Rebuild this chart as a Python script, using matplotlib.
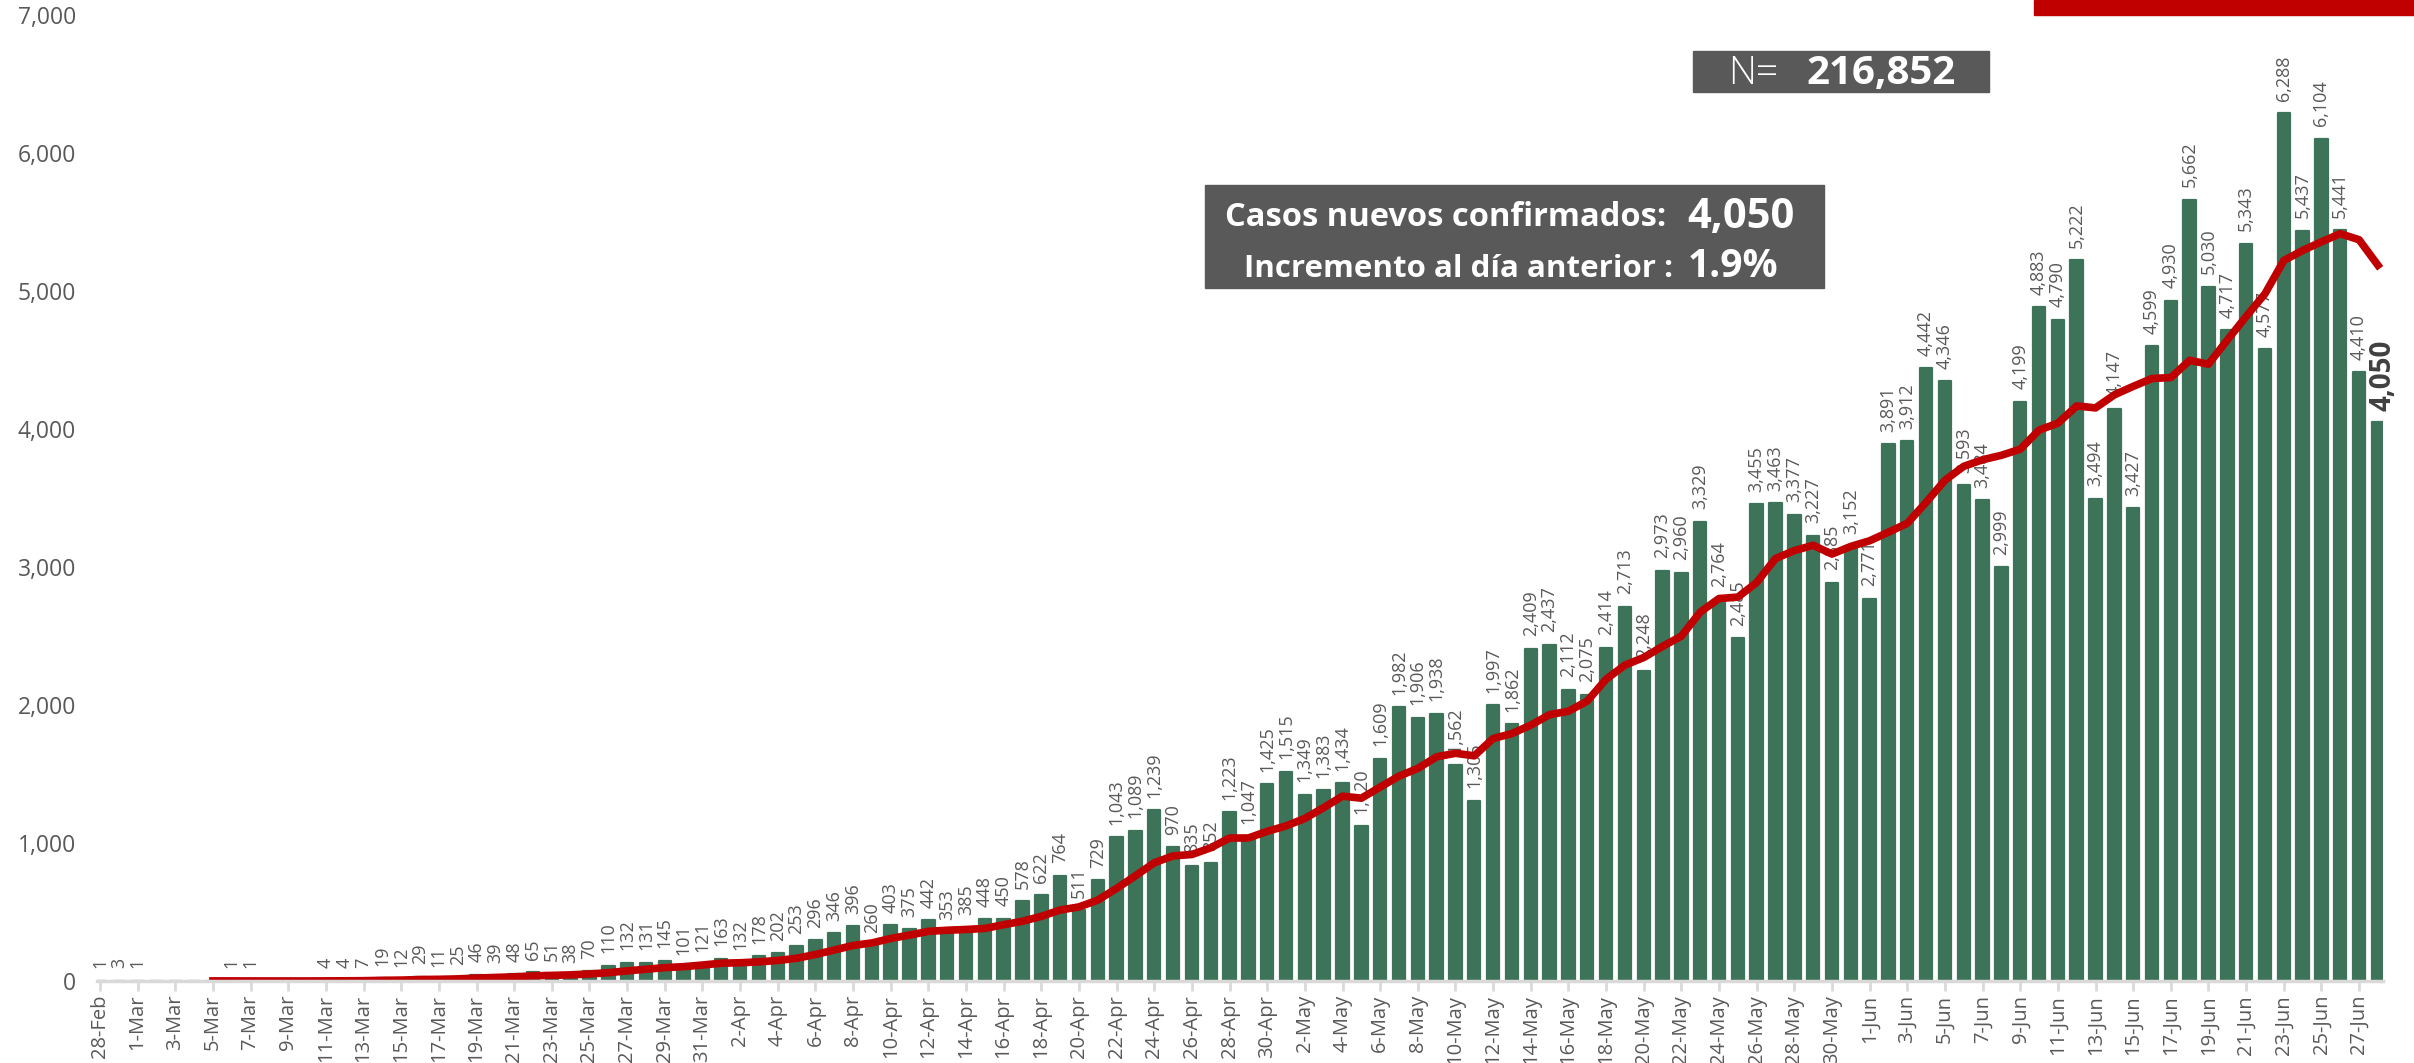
import matplotlib
matplotlib.use("Agg")
import matplotlib.pyplot as plt
from matplotlib.patches import Rectangle
import pandas as pd

plt.rcParams['font.family'] = ['Open Sans', 'DejaVu Sans']

# casos nuevos confirmados por día, 28-Feb a 28-Jun 2020
fechas = pd.date_range("2020-02-28", "2020-06-28", freq="D")
casos = [1, 3,
         1, 0, 0, 0, 0, 1, 1, 0, 0, 0, 4, 4, 7, 19, 12, 29, 11, 25, 46, 39,
         48, 65, 51, 38, 70, 110, 132, 131, 145, 101, 121,
         163, 132, 178, 202, 253, 296, 346, 396, 260, 403,
         375, 442, 353, 385, 448, 450, 578, 622, 764, 511,
         729, 1043, 1089, 1239, 970, 835, 852, 1223, 1047, 1425,
         1515, 1349, 1383, 1434, 1120, 1609, 1982, 1906, 1938, 1562,
         1305, 1997, 1862, 2409, 2437, 2112, 2075, 2414, 2713, 2248,
         2973, 2960, 3329, 2764, 2485, 3455, 3463, 3377, 3227, 2885, 3152,
         2771, 3891, 3912, 4442, 4346, 3593, 3484, 2999, 4199, 4883,
         4790, 5222, 3494, 4147, 3427, 4599, 4930, 5662, 5030, 4717,
         5343, 4577, 6288, 5437, 6104, 5441, 4410, 4050]
etiquetas = [f"{d.day}-{d.strftime('%b')}" for d in fechas]

total = "216,852"
nuevos = "4,050"
incremento = "1.9%"

verde = "#3d7358"
rojo = "#c00000"
gris = "#595959"

df = pd.DataFrame({"fecha": fechas, "casos": casos})
df["media7"] = df["casos"].rolling(7).mean()
x = list(range(len(df)))

W, H = 2414, 1063
fig = plt.figure(figsize=(W / 100, H / 100), dpi=100)
ax = fig.add_axes([97 / W, 82 / H, 2286 / W, 966 / H])

ax.bar(x, df["casos"], width=0.66, color=verde, edgecolor=verde, linewidth=1.6,
       joinstyle="round", zorder=2)
ax.plot(x, df["media7"], color=rojo, lw=5.5, zorder=4, solid_joinstyle="round")

for i, v in enumerate(df["casos"]):
    if v <= 0:
        continue
    if i == len(df) - 1:
        ax.annotate(f"{v:,}", (i, v), xytext=(4, 8), textcoords="offset points",
                    rotation=90, ha="center", va="bottom", fontsize=20,
                    fontweight="bold", color="#404040", zorder=3)
    else:
        ax.annotate(f"{v:,}", (i, v), xytext=(0, 9), textcoords="offset points",
                    rotation=90, ha="center", va="bottom", fontsize=13,
                    color=gris, zorder=3)

ax.set_xlim(-0.16, len(df) - 1 + 0.27)
ax.set_ylim(0, 7000)
ax.set_xticks(x[::2])
ax.set_xticklabels(etiquetas[::2], rotation=90, fontsize=14.5, color=gris)
ax.set_yticks(range(0, 7001, 1000))
ax.set_yticklabels([f"{v:,}" for v in range(0, 7001, 1000)], fontsize=16.5, color=gris)
ax.tick_params(axis="y", length=0, pad=15)
ax.tick_params(axis="x", length=7, width=2, color="#d9d9d9", pad=3)
for s in ["top", "right", "left"]:
    ax.spines[s].set_visible(False)
ax.spines["bottom"].set_color("#d9d9d9")
ax.spines["bottom"].set_linewidth(2.5)
ax.spines["bottom"].set_zorder(5)


def px(xp, yp):
    return xp / W, 1 - yp / H


def caja(x0, y0, x1, y1, color):
    fig.patches.append(Rectangle((x0 / W, 1 - y1 / H), (x1 - x0) / W, (y1 - y0) / H,
                                 transform=fig.transFigure, color=color, zorder=5))


# franja roja superior
caja(2034, 0, 2414, 15, rojo)

# N total
caja(1693, 51, 1989, 92, gris)
fig.text(*px(1728, 84), "N=", color="white", fontsize=28, fontweight="light",
         ha="left", va="baseline", zorder=6)
fig.text(*px(1956, 84), total, color="white", fontsize=29, fontweight="bold",
         ha="right", va="baseline", zorder=6)

# casos nuevos / incremento
caja(1205, 185, 1824, 288, gris)
fig.text(*px(1225, 226), "Casos nuevos confirmados:", color="white", fontsize=23.5,
         fontweight="bold", ha="left", va="baseline", zorder=6)
fig.text(*px(1794, 228), nuevos, color="white", fontsize=30, fontweight="bold",
         ha="right", va="baseline", zorder=6)
fig.text(*px(1244, 277), "Incremento al día anterior :", color="white", fontsize=22.5,
         fontweight="bold", ha="left", va="baseline", zorder=6)
fig.text(*px(1778, 277), incremento, color="white", fontsize=28, fontweight="bold",
         ha="right", va="baseline", zorder=6)

fig.savefig("out.png", dpi=100)
